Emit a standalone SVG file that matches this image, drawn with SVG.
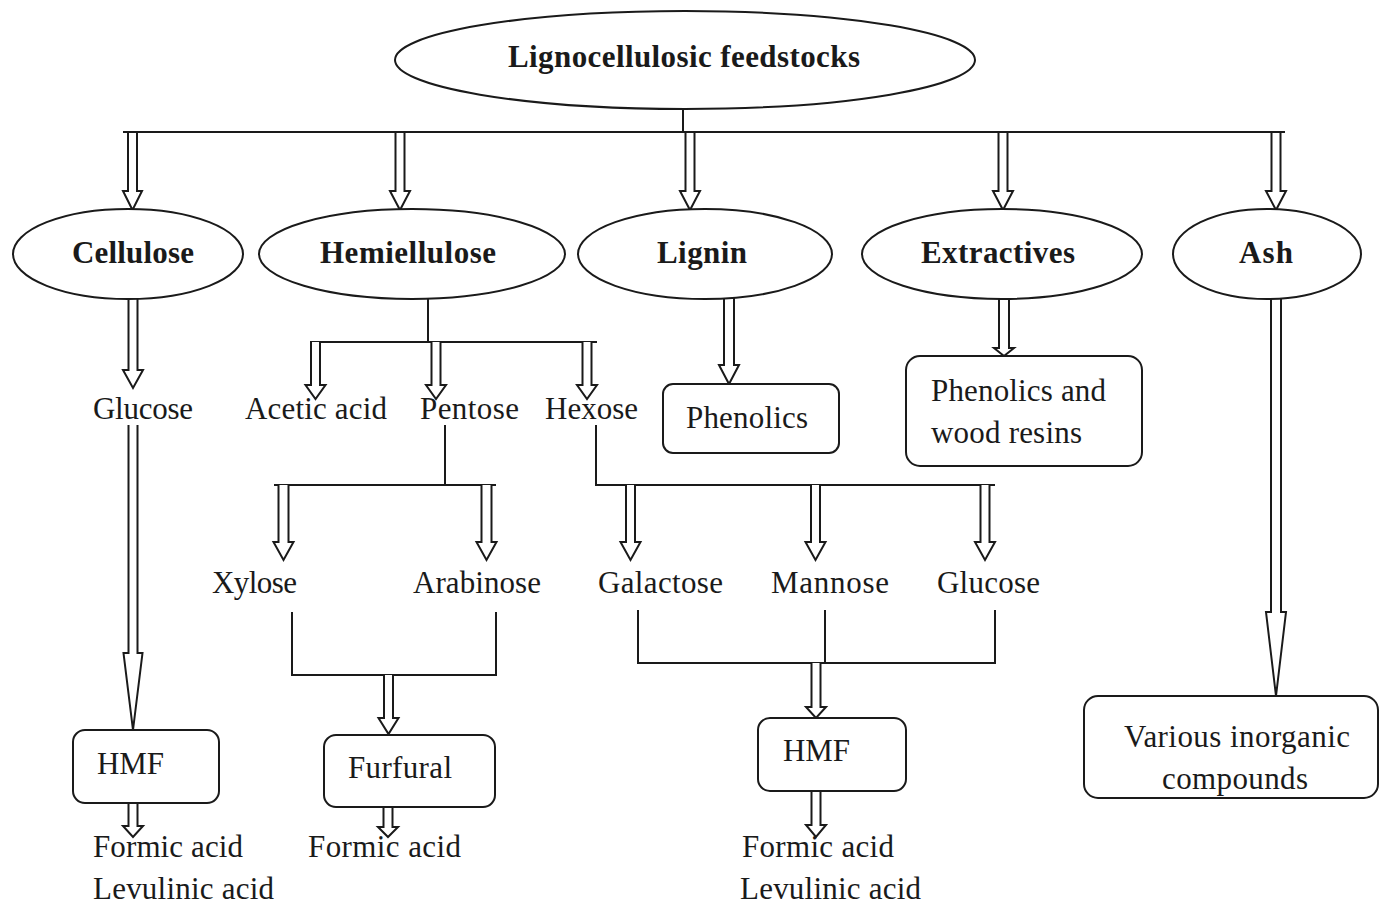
<svg xmlns="http://www.w3.org/2000/svg" width="1379" height="905" viewBox="0 0 1379 905">
<style>
.sh{fill:#fff;stroke:#1a1a1a;stroke-width:2}
.ln{fill:none;stroke:#1a1a1a;stroke-width:2}
.ar{fill:#fff;stroke:#1a1a1a;stroke-width:2;stroke-linejoin:miter}
.t{font-family:"Liberation Serif","Times New Roman",serif;font-size:31px;fill:#1a1a1a}
.b{font-family:"Liberation Serif","Times New Roman",serif;font-size:31px;font-weight:bold;fill:#1a1a1a}
</style>
<rect width="1379" height="905" fill="#fff"/>
<g id="connectors">
<path class="ln" d="M683,110V132M123,132H1285"/>
<path class="ln" d="M428,298V342M310,342H597"/>
<path class="ln" d="M445,425V485M274,485H496"/>
<path class="ln" d="M596,425V485H995"/>
<path class="ln" d="M292,612V675H496V612"/>
<path class="ln" d="M638,610V663H995V610M825,610V663"/>
<path class="ar" d="M128,133V191H123L132.5,210L142,191H137V133"/>
<path class="ar" d="M395.5,133V191H390L400,210L410,191H404.5V133"/>
<path class="ar" d="M685.5,133V191H680L690,210L700,191H694.5V133"/>
<path class="ar" d="M998.5,133V191H993L1003,210L1013,191H1007.5V133"/>
<path class="ar" d="M1271.5,133V191H1266L1276,210L1286,191H1280.5V133"/>
<path class="ar" d="M128.5,298V370H123L133,388L143,370H137.5V298"/>
<path class="ar" d="M128.5,425V653H123.5L133,730L142.5,653H137.5V425"/>
<path class="ar" d="M128.5,803V826H123L133,837L143,826H137.5V803"/>
<path class="ar" d="M311,342V385H305.5L315.5,399L325.5,385H320V342"/>
<path class="ar" d="M431.5,342V385H426L436,399L446,385H440.5V342"/>
<path class="ar" d="M582.5,342V385H577L587,399L597,385H591.5V342"/>
<path class="ar" d="M278.5,485V542H273.5L283.5,560L293.5,542H288.5V485"/>
<path class="ar" d="M481.5,485V542H476.5L486.5,560L496.5,542H491.5V485"/>
<path class="ar" d="M626,485V542H620.5L630.5,560L640.5,542H635V485"/>
<path class="ar" d="M811,485V542H805.5L815.5,560L825.5,542H820V485"/>
<path class="ar" d="M980.5,485V542H975L985,560L995,542H989.5V485"/>
<path class="ar" d="M384,675V718H378.5L388.5,734L398.5,718H393V675"/>
<path class="ar" d="M383.5,807V827H378L388,837L398,827H392.5V807"/>
<path class="ar" d="M811.5,663V707H806L816,718L826,707H820.5V663"/>
<path class="ar" d="M811.5,791V825H806L816,837L826,825H820.5V791"/>
<path class="ar" d="M724,298V365H719L729,384L739,365H734V298"/>
<path class="ar" d="M999,298V348H994L1004,356L1014,348H1009V298"/>
<path class="ar" d="M1271,298V612H1266L1276,696L1286,612H1281V298"/>
</g>
<g id="lignocellulosic">
<ellipse class="sh" cx="685" cy="60" rx="290" ry="49"/>
<text class="b" x="684" y="67" text-anchor="middle" textLength="352">Lignocellulosic feedstocks</text>
</g>
<g id="cellulose">
<ellipse class="sh" cx="128" cy="254" rx="115" ry="45"/>
<text class="b" x="133" y="263" text-anchor="middle" textLength="122">Cellulose</text>
</g>
<g id="hemicellulose">
<ellipse class="sh" cx="412" cy="254" rx="153" ry="45"/>
<text class="b" x="408" y="263" text-anchor="middle" textLength="176">Hemiellulose</text>
</g>
<g id="lignin">
<ellipse class="sh" cx="705" cy="254" rx="127" ry="45"/>
<text class="b" x="702" y="263" text-anchor="middle" textLength="90">Lignin</text>
</g>
<g id="extractives">
<ellipse class="sh" cx="1002" cy="254" rx="140" ry="45"/>
<text class="b" x="998" y="263" text-anchor="middle" textLength="154">Extractives</text>
</g>
<g id="ash">
<ellipse class="sh" cx="1267" cy="254" rx="94" ry="45"/>
<text class="b" x="1266" y="263" text-anchor="middle" textLength="54">Ash</text>
</g>
<g id="glucose1"><text class="t" x="93" y="419" textLength="100">Glucose</text></g>
<g id="acetic"><text class="t" x="245" y="419" textLength="142">Acetic acid</text></g>
<g id="pentose"><text class="t" x="420" y="419" textLength="99">Pentose</text></g>
<g id="hexose"><text class="t" x="545" y="419" textLength="93">Hexose</text></g>
<g id="xylose"><text class="t" x="212" y="593" textLength="85">Xylose</text></g>
<g id="arabinose"><text class="t" x="413" y="593" textLength="128">Arabinose</text></g>
<g id="galactose"><text class="t" x="598" y="593" textLength="125">Galactose</text></g>
<g id="mannose"><text class="t" x="771" y="593" textLength="118">Mannose</text></g>
<g id="glucose2"><text class="t" x="937" y="593" textLength="103">Glucose</text></g>
<g id="phenolics">
<rect class="sh" x="663" y="384" width="176" height="69" rx="10"/>
<text class="t" x="686" y="428" textLength="122">Phenolics</text>
</g>
<g id="phenolics-resins">
<rect class="sh" x="906" y="356" width="236" height="110" rx="14"/>
<text class="t" x="931" y="401" textLength="175">Phenolics and</text>
<text class="t" x="931" y="443" textLength="151">wood resins</text>
</g>
<g id="hmf1">
<rect class="sh" x="73" y="730" width="146" height="73" rx="12"/>
<text class="t" x="97" y="774" textLength="67">HMF</text>
</g>
<g id="furfural">
<rect class="sh" x="324" y="735" width="171" height="72" rx="12"/>
<text class="t" x="348" y="778" textLength="104">Furfural</text>
</g>
<g id="hmf2">
<rect class="sh" x="758" y="718" width="148" height="73" rx="12"/>
<text class="t" x="783" y="761" textLength="67">HMF</text>
</g>
<g id="inorganic">
<rect class="sh" x="1084" y="696" width="294" height="102" rx="14"/>
<text class="t" x="1237" y="747" text-anchor="middle" textLength="226">Various inorganic</text>
<text class="t" x="1235" y="789" text-anchor="middle" textLength="146">compounds</text>
</g>
<g id="products1">
<text class="t" x="93" y="857" textLength="150">Formic acid</text>
<text class="t" x="93" y="899" textLength="181">Levulinic acid</text>
</g>
<g id="products2">
<text class="t" x="308" y="857" textLength="153">Formic acid</text>
</g>
<g id="products3">
<text class="t" x="742" y="857" textLength="152">Formic acid</text>
<text class="t" x="740" y="899" textLength="181">Levulinic acid</text>
</g>
</svg>
